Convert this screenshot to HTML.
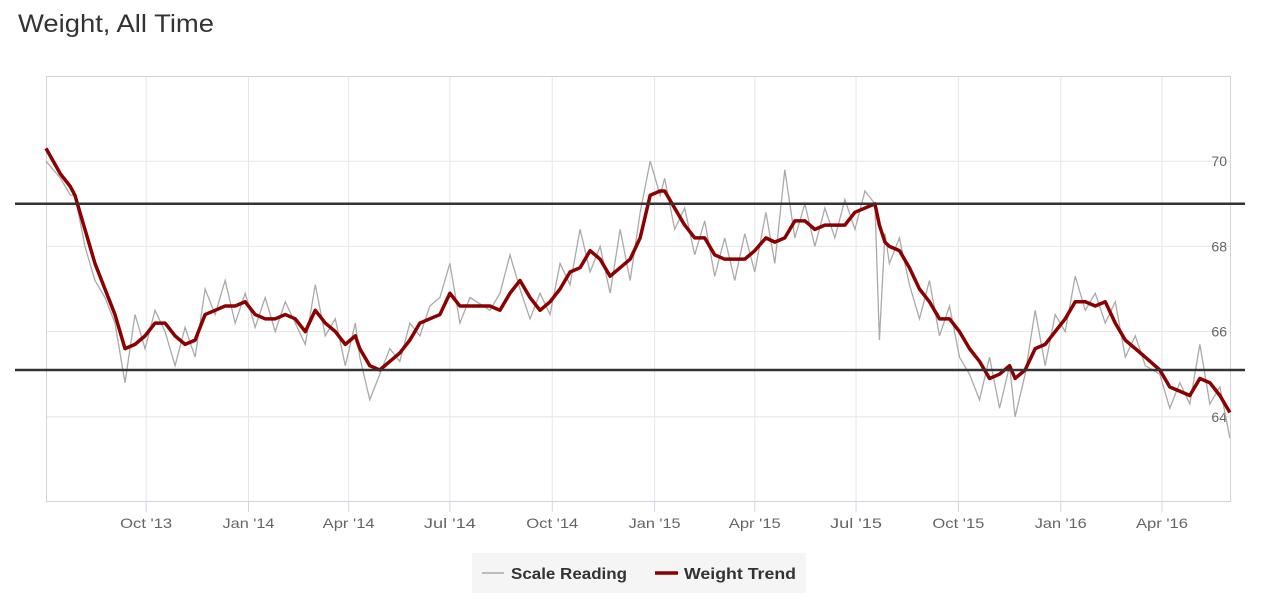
<!DOCTYPE html>
<html><head><meta charset="utf-8"><style>
body{margin:0;background:#fff;font-family:"Liberation Sans",sans-serif;}
#wrap{position:relative;width:1278px;height:608px;overflow:hidden}
</style></head><body><div id="wrap">
<svg id="chart" width="1278" height="608"></svg>
</div>
<script>
const xTickLabels=["Oct '13","Jan '14","Apr '14","Jul '14","Oct '14","Jan '15","Apr '15","Jul '15","Oct '15","Jan '16","Apr '16"];
const xTickDays=[90,182,272,363,455,547,637,728,820,912,1003];
const yTickLabels=[64,66,68,70];
const refLines=[69.0,65.1];
const trendDay=[0,13,22,26,35,44,53,62,71,80,89,98,107,116,125,134,143,152,161,170,179,188,197,206,215,224,233,242,251,260,269,278,282,291,300,309,318,327,336,345,354,363,372,381,399,408,417,426,435,444,453,462,471,480,489,498,507,516,525,534,543,552,556,565,574,583,592,601,610,619,628,637,647,655,664,673,682,691,700,709,718,727,736,745,749,754,758,767,776,785,794,803,812,821,830,839,848,857,866,871,880,889,898,907,916,925,934,943,952,961,970,979,988,1001,1010,1019,1028,1037,1046,1055,1064];
const trendVal=[70.3,69.7,69.4,69.2,68.4,67.6,67.0,66.4,65.6,65.7,65.9,66.2,66.2,65.9,65.7,65.8,66.4,66.5,66.6,66.6,66.7,66.4,66.3,66.3,66.4,66.3,66.0,66.5,66.2,66.0,65.7,65.9,65.6,65.2,65.1,65.3,65.5,65.8,66.2,66.3,66.4,66.9,66.6,66.6,66.6,66.5,66.9,67.2,66.8,66.5,66.7,67.0,67.4,67.5,67.9,67.7,67.3,67.5,67.7,68.2,69.2,69.3,69.3,68.9,68.5,68.2,68.2,67.8,67.7,67.7,67.7,67.9,68.2,68.1,68.2,68.6,68.6,68.4,68.5,68.5,68.5,68.8,68.9,69.0,68.5,68.1,68.0,67.9,67.5,67.0,66.7,66.3,66.3,66.0,65.6,65.3,64.9,65.0,65.2,64.9,65.1,65.6,65.7,66.0,66.3,66.7,66.7,66.6,66.7,66.2,65.8,65.6,65.4,65.1,64.7,64.6,64.5,64.9,64.8,64.5,64.1];
const scaleVal=[70.0,69.6,69.2,69.2,68.0,67.2,66.8,66.2,64.8,66.4,65.6,66.5,66.0,65.2,66.1,65.4,67.0,66.4,67.2,66.2,66.9,66.1,66.8,66.0,66.7,66.2,65.7,67.1,65.9,66.3,65.2,66.2,65.4,64.4,65.0,65.6,65.3,66.2,65.9,66.6,66.8,67.6,66.2,66.8,66.5,66.9,67.8,67.0,66.3,66.9,66.4,67.6,67.1,68.4,67.4,68.0,66.9,68.4,67.2,68.8,70.0,69.2,69.6,68.4,68.9,67.8,68.6,67.3,68.2,67.2,68.3,67.4,68.8,67.6,69.8,68.2,69.0,68.0,68.9,68.2,69.1,68.4,69.3,69.0,65.8,68.3,67.6,68.2,67.1,66.3,67.2,65.9,66.6,65.4,65.0,64.4,65.4,64.2,65.2,64.0,65.0,66.5,65.2,66.4,66.0,67.3,66.5,66.9,66.2,66.7,65.4,65.9,65.2,65.0,64.2,64.8,64.3,65.7,64.3,64.7,63.5];

const svg=document.getElementById('chart');const NS='http://www.w3.org/2000/svg';
const L=46,R=1231,T=76,B=502,D0=0,D1=1065,Y0=62,Y1=72;
const xs=d=>L+(d-D0)/(D1-D0)*(R-L);
const ys=v=>B-(v-Y0)/(Y1-Y0)*(B-T);
function mk(tag,attrs,parent){const e=document.createElementNS(NS,tag);for(const k in attrs)e.setAttribute(k,attrs[k]);(parent||svg).appendChild(e);return e;}
let t=mk('text',{x:18,y:32,'font-size':25,fill:'#333',textLength:196,lengthAdjust:'spacingAndGlyphs'});t.textContent='Weight, All Time';


xTickDays.forEach((d,i)=>{
 const g=mk('line',{x1:xs(d),x2:xs(d),y1:T,y2:B,stroke:'#e6e6e6','stroke-width':1});
 
 
 const tk=mk('line',{x1:xs(d),x2:xs(d),y1:B,y2:B+10,stroke:'#ccd6eb','stroke-width':1});
 
 
 const lb=mk('text',{x:xs(d),y:528,'text-anchor':'middle','font-size':14,fill:'#666',textLength:52,lengthAdjust:'spacingAndGlyphs'});lb.textContent=xTickLabels[i];
 
 
});
yTickLabels.forEach(v=>{
 const g=mk('line',{x1:L,x2:R,y1:ys(v),y2:ys(v),stroke:'#e6e6e6','stroke-width':1});
 
 
 const lb=mk('text',{x:1227,y:ys(v)+5,'text-anchor':'end','font-size':14,fill:'#666'});lb.textContent=v;
 
 
});
const fr=mk('rect',{x:L+0.5,y:T+0.5,width:R-L-1,height:B-T-1,fill:'none',stroke:'#d0d4dc','stroke-width':1});


const sp=mk('polyline',{points:trendDay.map((d,i)=>xs(d)+','+ys(scaleVal[i])).join(' '),fill:'none',stroke:'#aaa','stroke-width':1.3});


const tp=mk('polyline',{points:trendDay.map((d,i)=>xs(d)+','+ys(trendVal[i])).join(' '),fill:'none',stroke:'#8b0000','stroke-width':3.5,'stroke-linejoin':'round'});


refLines.forEach(v=>{
 const r=mk('line',{x1:15,x2:1245,y1:ys(v),y2:ys(v),stroke:'#333','stroke-width':2.5});
 
 
});
const lg=mk('g',{});


mk('rect',{x:472,y:553,width:334,height:40,fill:'#f5f5f5'},lg);
const i1=mk('g',{},lg);


mk('line',{x1:482,x2:504,y1:573,y2:573,stroke:'#aaa','stroke-width':1.5},i1);
let a=mk('text',{x:511,y:579,'font-size':16,'font-weight':'bold',fill:'#333',textLength:116,lengthAdjust:'spacingAndGlyphs'},i1);a.textContent='Scale Reading';
const i2=mk('g',{},lg);


mk('line',{x1:655,x2:678,y1:573,y2:573,stroke:'#8b0000','stroke-width':3.5},i2);
let b=mk('text',{x:684,y:579,'font-size':16,'font-weight':'bold',fill:'#333',textLength:112,lengthAdjust:'spacingAndGlyphs'},i2);b.textContent='Weight Trend';
</script></body></html>
